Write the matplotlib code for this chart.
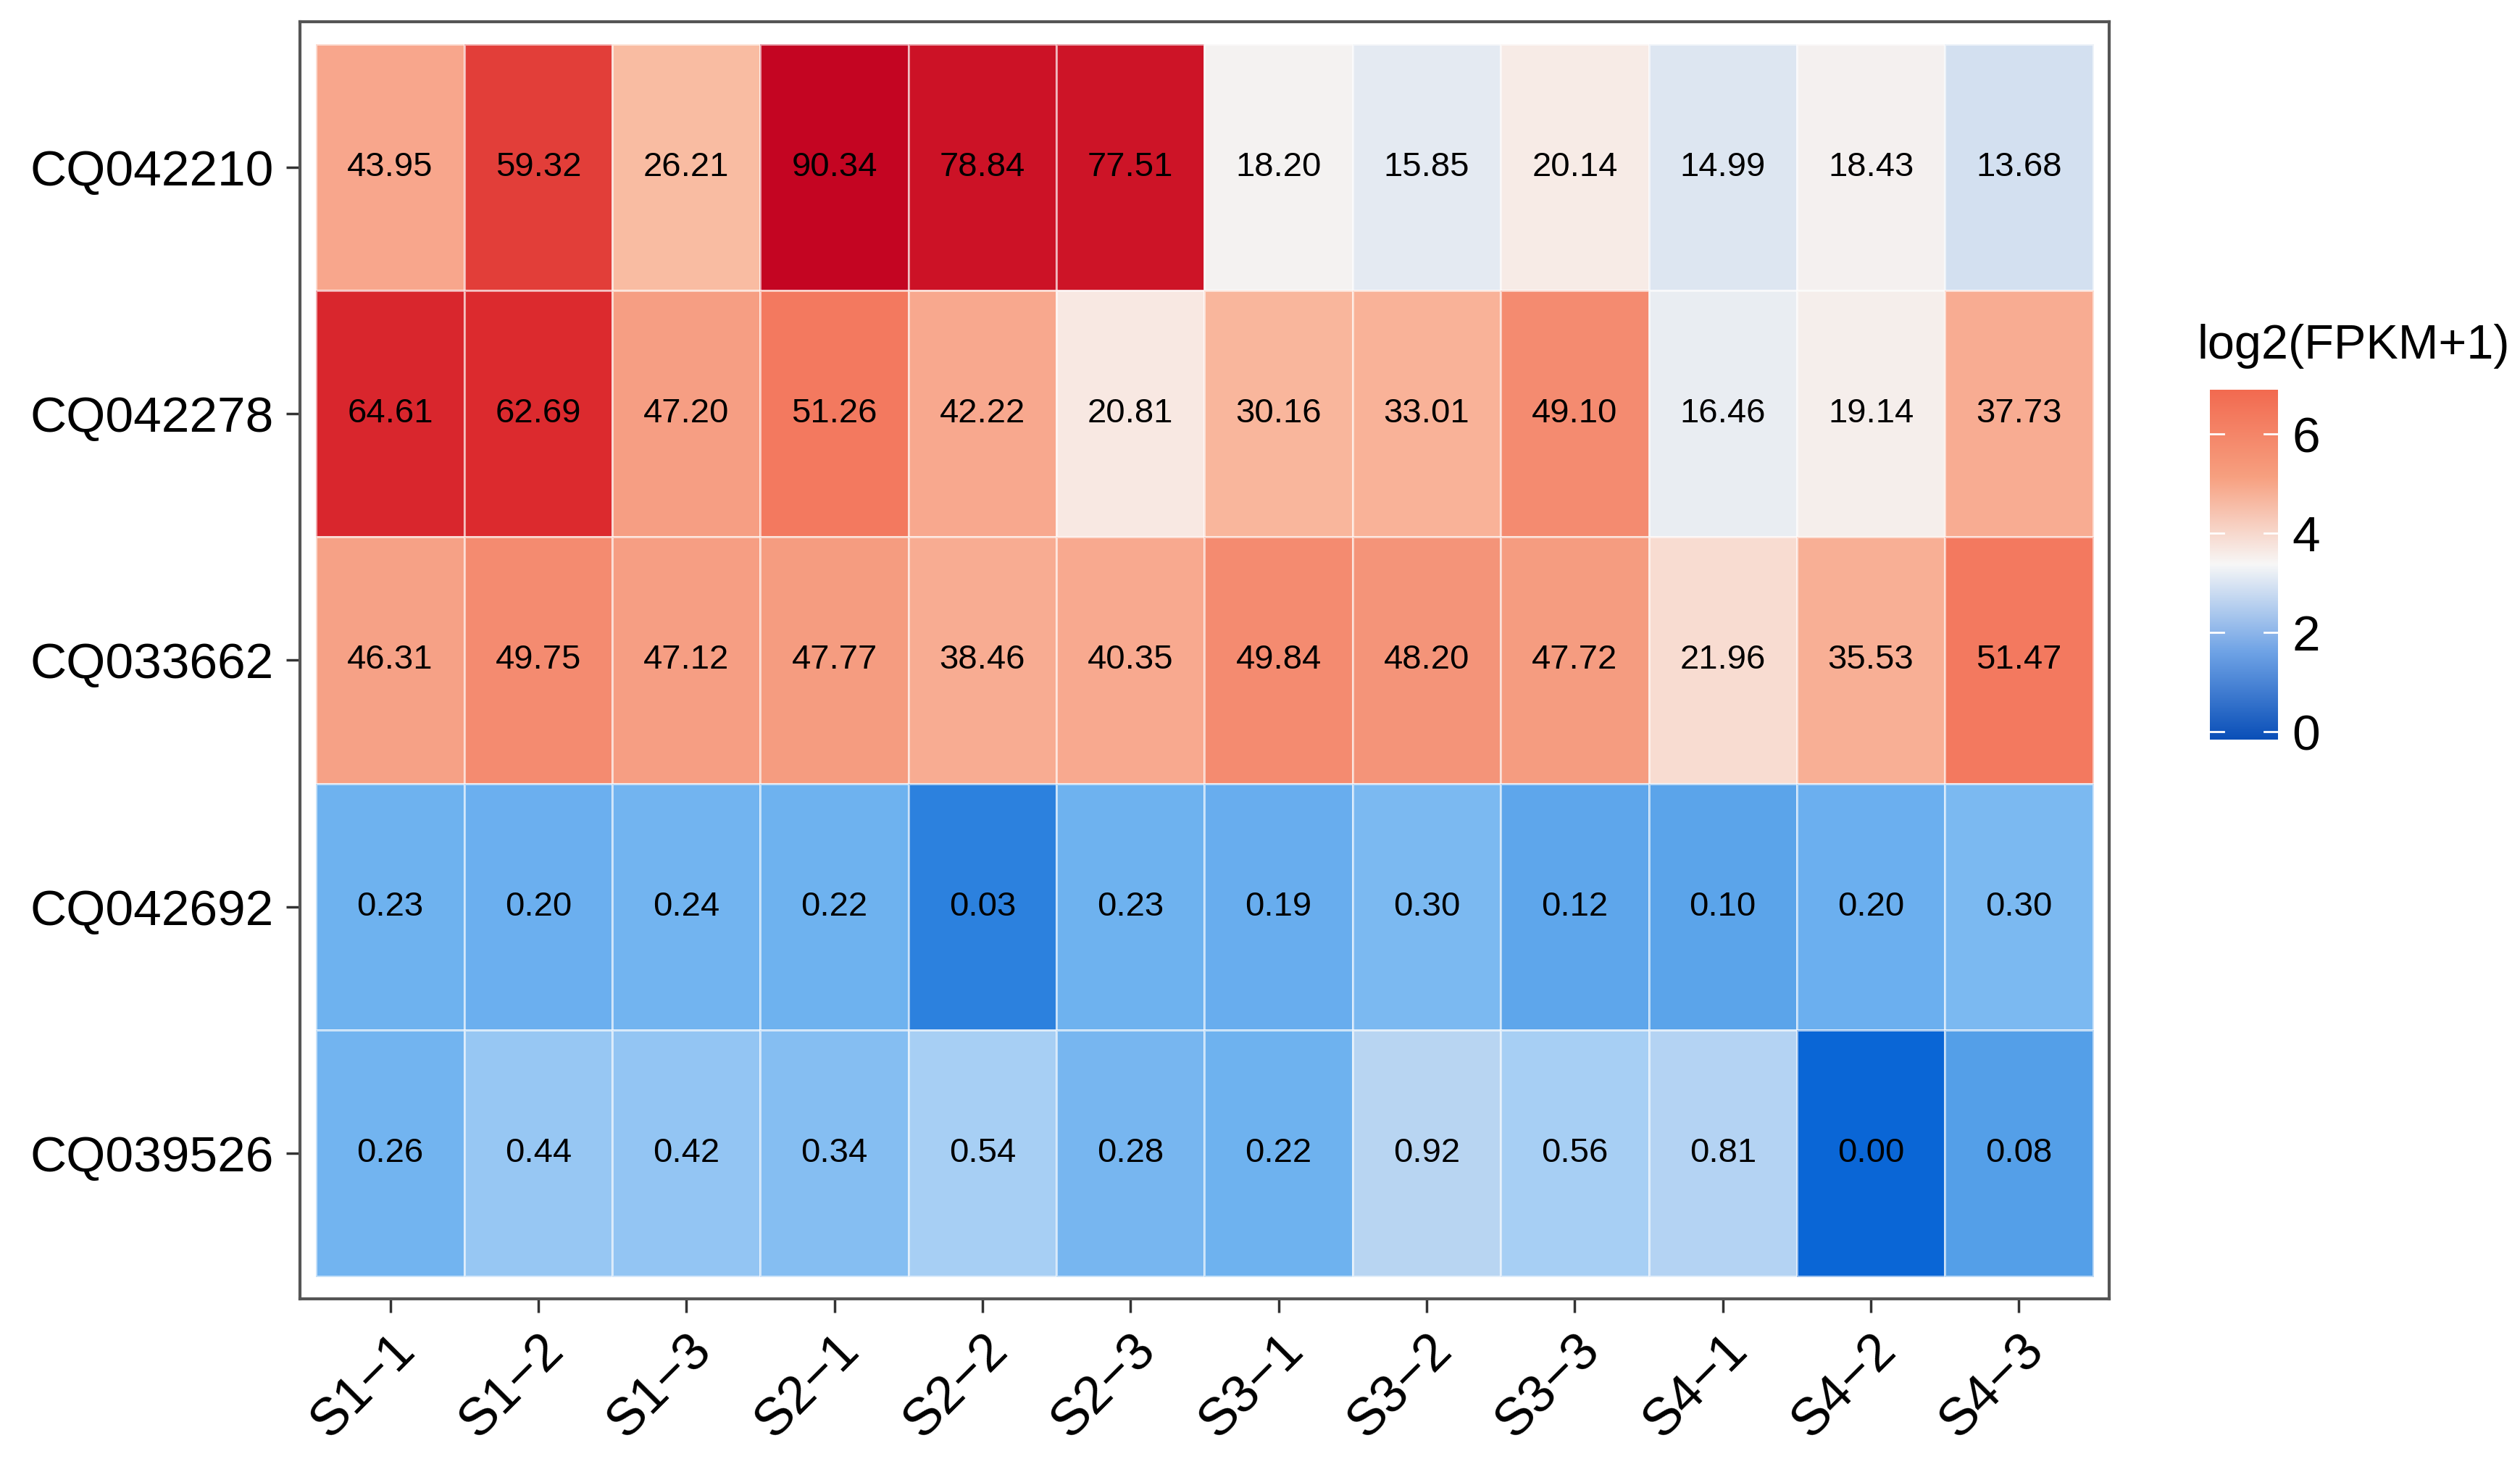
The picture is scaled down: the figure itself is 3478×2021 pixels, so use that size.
import numpy as np
import matplotlib.pyplot as plt
from matplotlib.colors import LinearSegmentedColormap

plt.rcParams['font.family'] = ['Liberation Sans', 'DejaVu Sans']

genes = ['CQ042210', 'CQ042278', 'CQ033662', 'CQ042692', 'CQ039526']
samples = ['S1\u22121', 'S1\u22122', 'S1\u22123', 'S2\u22121', 'S2\u22122', 'S2\u22123',
           'S3\u22121', 'S3\u22122', 'S3\u22123', 'S4\u22121', 'S4\u22122', 'S4\u22123']

fpkm = np.array([
    [43.95, 59.32, 26.21, 90.34, 78.84, 77.51, 18.20, 15.85, 20.14, 14.99, 18.43, 13.68],
    [64.61, 62.69, 47.20, 51.26, 42.22, 20.81, 30.16, 33.01, 49.10, 16.46, 19.14, 37.73],
    [46.31, 49.75, 47.12, 47.77, 38.46, 40.35, 49.84, 48.20, 47.72, 21.96, 35.53, 51.47],
    [0.23, 0.20, 0.24, 0.22, 0.03, 0.23, 0.19, 0.30, 0.12, 0.10, 0.20, 0.30],
    [0.26, 0.44, 0.42, 0.34, 0.54, 0.28, 0.22, 0.92, 0.56, 0.81, 0.00, 0.08],
])
lv = np.log2(fpkm + 1)

# cell colour mapping (in log2 space)
vmax = 6.6
nodes = [(0.0, '#0a66d6'), (0.04, '#3f8fe2'), (0.12, '#5aa3ea'), (0.3, '#70b3f0'),
         (0.6, '#a6cff4'), (1.0, '#bcd6f2'),
         (3.9, '#d3e0f0'), (4.25, '#f3f3f3'), (4.45, '#f8e8e2'), (4.75, '#f9bca2'),
         (5.5, '#f8a68c'), (5.62, '#f59c80'), (5.75, '#f26e55'), (6.0, '#dc2a2e'),
         (6.6, '#c00020')]
cell_cmap = LinearSegmentedColormap.from_list('cells', [(v / vmax, c) for v, c in nodes])

fig = plt.figure(figsize=(34.78, 20.21), dpi=100)
ax = fig.add_axes([0.119, 0.113, 0.718, 0.872])
ax.pcolormesh(np.arange(13) - 0.5, np.arange(6) - 0.5, lv, cmap=cell_cmap,
              vmin=0, vmax=vmax, edgecolors=(1, 1, 1, 0.6), linewidth=2)
for i in range(len(genes)):
    for j in range(len(samples)):
        ax.text(j, i, f'{fpkm[i, j]:.2f}', ha='center', va='center', fontsize=34)
ax.set_xlim(-0.61, 11.61)
ax.set_ylim(4.59, -0.59)
ax.set_xticks(range(12))
ax.set_xticklabels(samples, rotation=45, ha='right', rotation_mode='anchor', fontsize=52)
ax.set_yticks(range(5))
ax.set_yticklabels(genes, fontsize=50)
ax.tick_params(length=14, width=2.5, color='#333333', pad=12)
for s in ax.spines.values():
    s.set_linewidth(3)
    s.set_color('#555555')

# colour bar
cax = fig.add_axes([0.877, 0.495, 0.027, 0.239])
bar_cmap = LinearSegmentedColormap.from_list('bar', ['#0a4fb8', '#6fa3e6', '#f7f7f7', '#f7a080', '#f26a50'])
grad = np.linspace(-0.15, 6.9, 256).reshape(-1, 1)
cax.imshow(grad, aspect='auto', origin='lower', cmap=bar_cmap, extent=[0, 1, -0.15, 6.9])
cax.set_xticks([])
cax.yaxis.tick_right()
cax.set_yticks([0, 2, 4, 6])
cax.tick_params(axis='y', length=0, labelsize=50, pad=14)
for t in [0, 2, 4, 6]:
    cax.plot([0, 0.2], [t, t], color='white', lw=2)
    cax.plot([0.8, 1], [t, t], color='white', lw=2)
cax.set_xlim(0, 1)
cax.set_ylim(-0.15, 6.9)
for s in cax.spines.values():
    s.set_visible(False)
fig.text(0.872, 0.748, 'log2(FPKM+1)', fontsize=48, ha='left', va='bottom')

fig.savefig('out.png', dpi=100)
